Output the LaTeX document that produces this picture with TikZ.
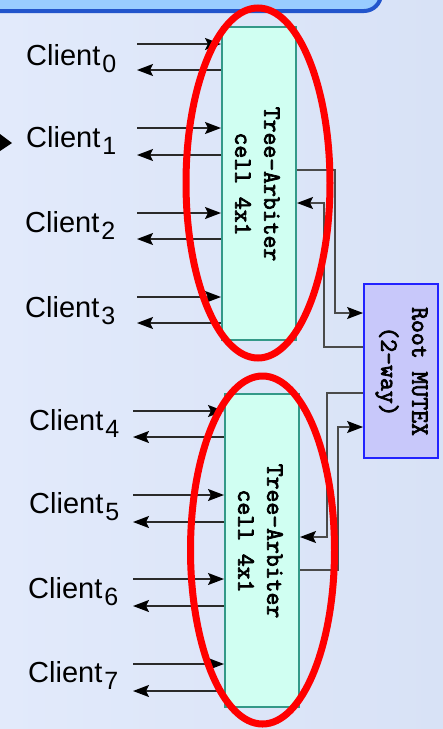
\documentclass[tikz,border=0pt]{standalone}
\usepackage{fontspec}
\setmainfont{Liberation Sans}
\newfontfamily\monob{Latin Modern Mono}[FakeBold=3]
\usetikzlibrary{arrows.meta}
\definecolor{bgL}{HTML}{E2EAFB}
\definecolor{bgR}{HTML}{D8E2F6}
\definecolor{hdrfill}{HTML}{99CCFF}
\definecolor{hdrdraw}{HTML}{2255CC}
\definecolor{cellfill}{HTML}{D0FFF2}
\definecolor{celldraw}{HTML}{339988}
\definecolor{rootfill}{HTML}{C8C8FA}
\definecolor{rootdraw}{HTML}{2222FF}
\definecolor{linecol}{HTML}{2A2A2A}
\definecolor{conncol}{HTML}{4A4A4A}
\tikzset{
  tip/.style={-{Stealth[length=16pt,width=12pt,inset=3pt,color=black]}},
  cin/.style={draw=linecol, line width=1.5pt, tip},
  conn/.style={draw=conncol, line width=1.4pt, tip},
  cellbox/.style={draw=celldraw, fill=cellfill, line width=2pt, minimum width=74pt, minimum height=313pt, inner sep=0pt},
  rootbox/.style={draw=rootdraw, fill=rootfill, line width=1.8pt, minimum width=74pt, minimum height=174pt, inner sep=0pt},
  celltext/.style={rotate=-90, align=center, inner sep=0pt, font=\monob\fontsize{25}{29}\selectfont},
  roottext/.style={rotate=-90, align=center, inner sep=0pt, font=\monob\fontsize{25}{31}\selectfont},
  clientlbl/.style={anchor=base west, inner sep=0pt, font=\fontsize{29}{29}\selectfont},
  redring/.style={draw=red, line width=7pt}
}
\newcommand{\clsub}[1]{\kern2pt\raisebox{-7pt}{\fontsize{25}{25}\selectfont #1}}
\begin{document}
\begin{tikzpicture}[x=1pt,y=-1pt]
\useasboundingbox (0,0) rectangle (443,729);
\clip (0,0) rectangle (443,729);
\shade[left color=bgL, right color=bgR] (0,0) rectangle (443,729);
% header box
\draw[fill=hdrfill, draw=hdrdraw, line width=4pt, rounded corners=17pt] (-30,-60) rectangle (381,11);
% boxes
\node[cellbox] (cellA) at (259,183.5) {};
\node[cellbox] (cellB) at (262,550.5) {};
\node[rootbox] (root) at (401,371) {};
\node[celltext] (cellAtxt) at (257.5,184) {Tree-Arbiter\\cell 4x1};
\node[celltext] (cellBtxt) at (260.5,541) {Tree-Arbiter\\cell 4x1};
\node[roottext] (roottxt) at (401.5,371.5) {Root MUTEX\\(2-way)};
% clients upper
\foreach \i/\yin/\yout/\xs/\bl/\xl in {0/44/70/137/65/26, 1/128/155/137/147/26, 2/213/239/137/232/25, 3/297/323/137/317/25}{
  \node[clientlbl] (c\i) at (\xl,\bl) {Client\clsub{\i}};
  \draw[cin] (\xs,\yin) -- (cellA.west |- 0,\yin);
  \draw[cin] (cellA.west |- 0,\yout) -- (\xs,\yout);
}
% clients lower
\foreach \i/\yin/\yout/\xs/\bl/\xl in {4/411/437/133/430/29, 5/495/522/133/513/29, 6/579/606/133/598/28, 7/664/691/133/682/28}{
  \node[clientlbl] (c\i) at (\xl,\bl) {Client\clsub{\i}};
  \draw[cin] (\xs,\yin) -- (cellB.west |- 0,\yin);
  \draw[cin] (cellB.west |- 0,\yout) -- (\xs,\yout);
}
% connectors to root
\draw[conn] (cellA.east |- 0,170) -| (335,313) -- (root.west |- 0,313);
\draw[conn] (root.west |- 0,347) -| (324,203) -- (cellA.east |- 0,203);
\draw[conn] (root.west |- 0,393) -| (327,537) -- (cellB.east |- 0,537);
\draw[conn] (cellB.east |- 0,570) -| (338,427) -- (root.west |- 0,427);
% red rings
\draw[redring] (258,183) ellipse [x radius=72, y radius=175];
\draw[redring] (262.5,550) ellipse [x radius=72, y radius=174];
% pointer tip
\fill[black] (0,134) -- (12,143) -- (0,151) -- cycle;
\end{tikzpicture}
\end{document}
